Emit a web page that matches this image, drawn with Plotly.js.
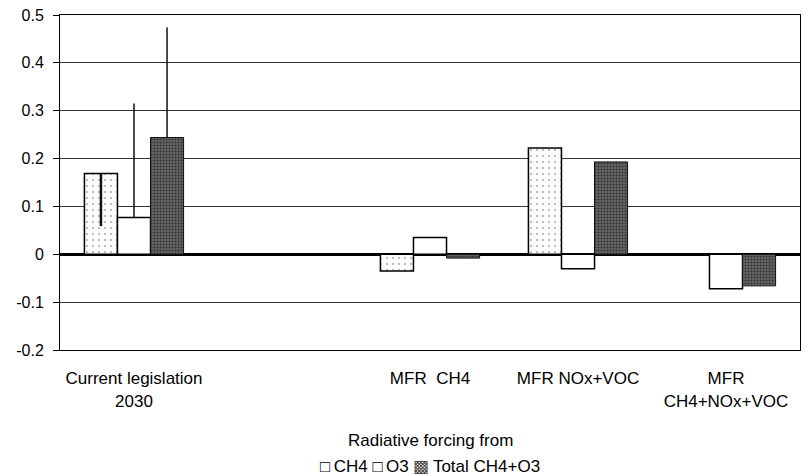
<!DOCTYPE html>
<html>
<head>
<meta charset="utf-8">
<script src="https://cdn.plot.ly/plotly-3.0.1.min.js"></script>
<style>html,body{margin:0;padding:0;background:#fff;}#chart{width:805px;height:475px;}</style>
</head>
<body>
<div id="chart"></div>
<script>
// Categories (the blank one is the empty slot between the first and second groups)
var categories = ['Current legislation 2030', ' ', 'MFR CH4', 'MFR NOx+VOC', 'MFR CH4+NOx+VOC'];
var tickLabels = ['Current legislation<br>2030', '', 'MFR  CH4', 'MFR NOx+VOC', 'MFR<br>CH4+NOx+VOC'];
var dataCategories = ['Current legislation 2030', 'MFR CH4', 'MFR NOx+VOC', 'MFR CH4+NOx+VOC'];

// Series values
var ch4Values   = [0.169, -0.035, 0.222, 0.000];
var o3Values    = [0.077,  0.035, -0.030, -0.072];
var totalValues = [0.244, -0.008, 0.193, -0.066];

// Error bars (only drawn for current legislation)
var ch4ErrPlus   = [0, 0, 0, 0];
var ch4ErrMinus  = [0.110, 0, 0, 0];
var o3ErrPlus    = [0.238, 0, 0, 0];
var o3ErrMinus   = [0, 0, 0, 0];
var totalErrPlus = [0.230, 0, 0, 0];
var totalErrMinus= [0, 0, 0, 0];

var font = 'Liberation Sans, Arial, sans-serif';

function err(plus, minus, th) {
  return {type: 'data', symmetric: false, array: plus, arrayminus: minus,
          color: '#111', thickness: th, width: 0, visible: true};
}

var traces = [
  {type: 'bar', name: 'CH4', x: dataCategories, y: ch4Values,
   marker: {color: '#ffffff', line: {color: '#000', width: 1.5},
            pattern: {shape: '.', fgcolor: '#b0b0b0', bgcolor: '#fcfcfc', size: 6, solidity: 0.1}},
   error_y: err(ch4ErrPlus, ch4ErrMinus, 2.5)},
  {type: 'bar', name: 'O3', x: dataCategories, y: o3Values,
   marker: {color: '#ffffff', line: {color: '#000', width: 1.5}},
   error_y: err(o3ErrPlus, o3ErrMinus, 1.5)},
  {type: 'bar', name: 'Total CH4+O3', x: dataCategories, y: totalValues,
   marker: {color: '#555555', line: {color: '#111', width: 1},
            pattern: {shape: '.', fgcolor: '#333', bgcolor: '#666', size: 3, solidity: 0.4}},
   error_y: err(totalErrPlus, totalErrMinus, 1.5)}
];

var layout = {
  width: 805, height: 475,
  margin: {l: 60, r: 5, t: 15, b: 125},
  paper_bgcolor: '#fff', plot_bgcolor: '#fff',
  showlegend: false,
  barmode: 'group', bargap: 0.33, bargroupgap: 0,
  font: {family: font, size: 17, color: '#000'},
  xaxis: {
    type: 'category', categoryorder: 'array', categoryarray: categories,
    tickmode: 'array', tickvals: categories, ticktext: tickLabels,
    range: [-0.5, 4.5],
    showgrid: false, showline: true, linecolor: '#000', linewidth: 1, mirror: true,
    ticks: 'outside', ticklen: 13, tickcolor: 'rgba(0,0,0,0)',
    tickfont: {family: font, size: 17, color: '#000'}
  },
  yaxis: {
    range: [-0.2, 0.5],
    tickvals: [-0.2, -0.1, 0, 0.1, 0.2, 0.3, 0.4, 0.5],
    ticktext: ['-0.2', '-0.1', '0', '0.1', '0.2', '0.3', '0.4', '0.5'],
    showgrid: true, gridcolor: '#333', gridwidth: 1,
    zeroline: true, zerolinecolor: '#000', zerolinewidth: 3,
    showline: true, linecolor: '#000', linewidth: 1, mirror: true,
    ticks: 'outside', ticklen: 6, tickcolor: '#000', ticklabelstandoff: 6,
    tickfont: {family: font, size: 16, color: '#000'}
  },
  annotations: [
    {xref: 'paper', yref: 'paper', x: 0.5, y: -0.2687, xanchor: 'center', yanchor: 'middle',
     text: 'Radiative forcing from', showarrow: false, font: {family: font, size: 17, color: '#000'}},
    {xref: 'paper', yref: 'paper', x: 0.5, y: -0.3478, xanchor: 'center', yanchor: 'middle',
     text: '\u25a1\u2009CH4 \u25a1\u2009O3 <span style="color:#444">\u25a9</span>\u2009Total CH4+O3', showarrow: false,
     font: {family: font, size: 17, color: '#000'}}
  ]
};

Plotly.newPlot('chart', traces, layout, {displayModeBar: false, staticPlot: true});
</script>
</body>
</html>
